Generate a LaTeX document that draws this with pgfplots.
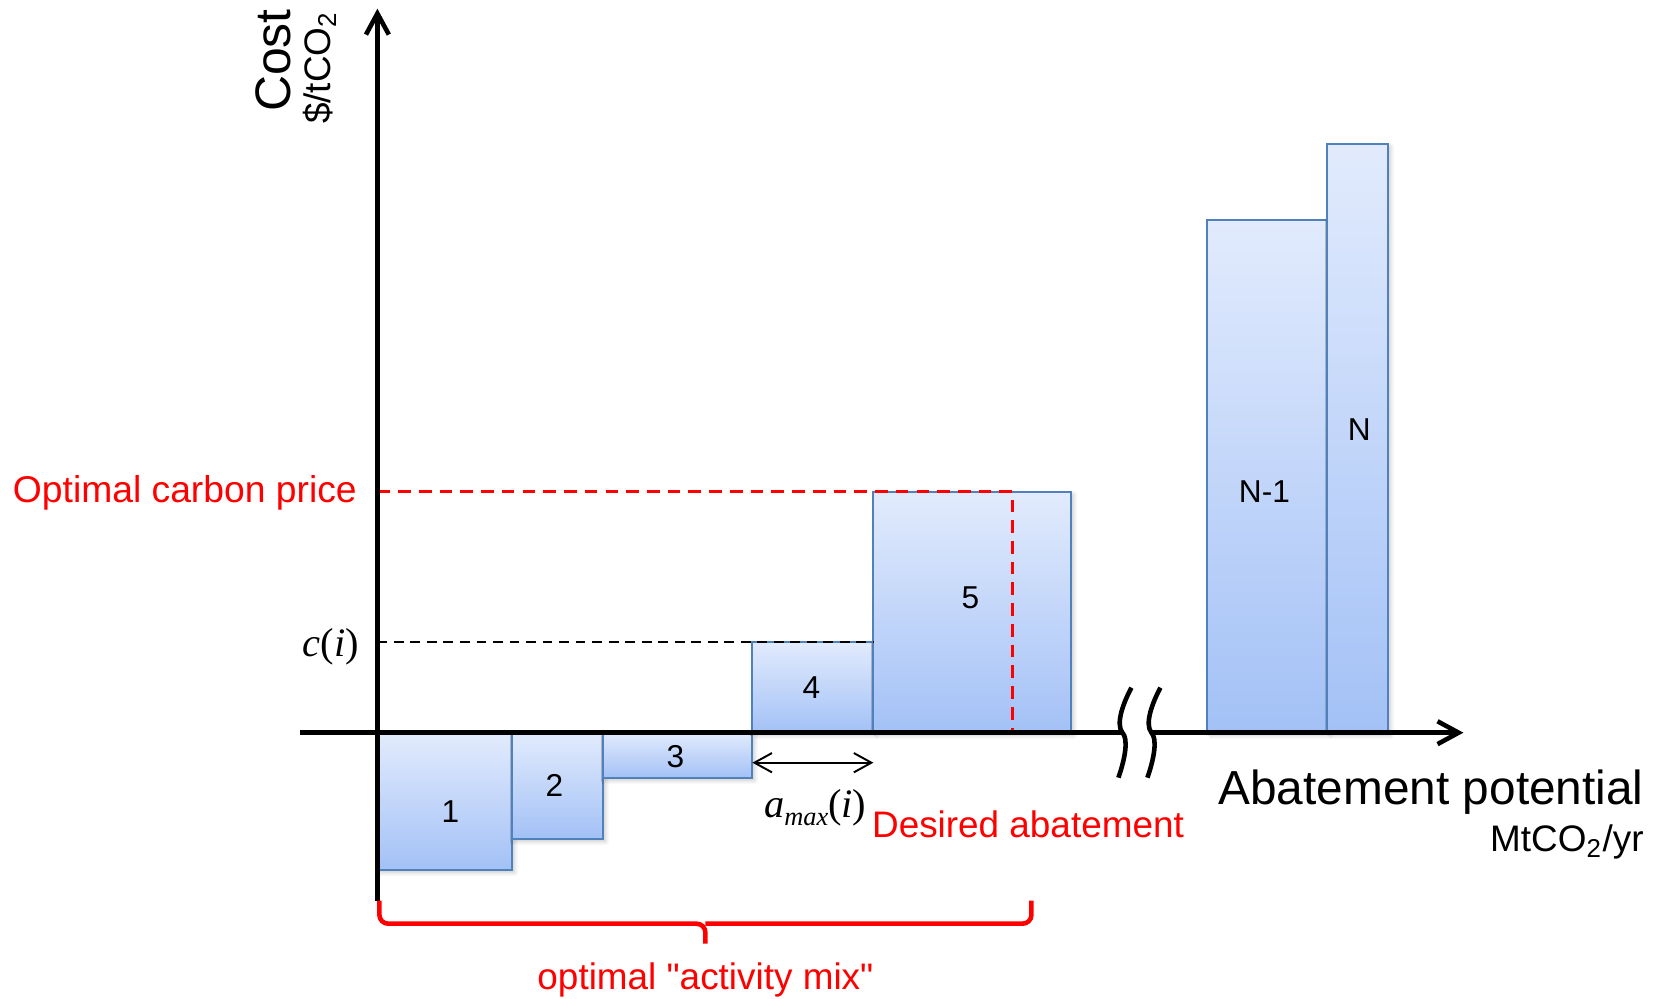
\documentclass[border=0pt]{standalone}
\usepackage{pgfplots}
\pgfplotsset{compat=1.18}
\usepackage{fontspec}
\setmainfont{Liberation Sans}[Ligatures=TeXOff]
\newfontfamily\serif{Liberation Serif}
\usetikzlibrary{arrows.meta,shadows.blur}
\definecolor{barTop}{RGB}{226,235,253}
\definecolor{barBot}{RGB}{163,193,246}
\definecolor{barEdge}{RGB}{79,129,189}
\tikzset{
  bar/.style={draw=barEdge, line width=0.6pt, top color=barTop, bottom color=barBot, line cap=rect,
    blur shadow={shadow xshift=0.6pt, shadow yshift=-0.8pt, shadow blur radius=1.2pt, shadow blur steps=6, shadow opacity=22}},
  axisline/.style={line width=1.3pt, black},
}

\begin{document}
\begin{tikzpicture}
\begin{axis}[
  scale only axis, width=16.53cm, height=9.98cm,
  xmin=-37.74, xmax=127.56, ymin=-26.53, ymax=73.27,
  hide axis, clip=false,
]
\path (rel axis cs:0,0) rectangle (rel axis cs:1,1);

% abatement activities: width = potential, height = cost
\addplot[bar] coordinates {(0,0) (13.5,0) (13.5,-13.7) (0,-13.7) (0,0)};
\addplot[bar] coordinates {(13.5,0) (22.6,0) (22.6,-10.6) (13.5,-10.6) (13.5,0)};
\addplot[bar] coordinates {(22.6,0) (37.5,0) (37.5,-4.5) (22.6,-4.5) (22.6,0)};
\addplot[bar] coordinates {(37.5,0) (49.6,0) (49.6,9.1) (37.5,9.1) (37.5,0)};
\addplot[bar] coordinates {(49.6,0) (69.4,0) (69.4,24.1) (49.6,24.1) (49.6,0)};
\addplot[bar] coordinates {(83.0,0) (95.0,0) (95.0,51.3) (83.0,51.3) (83.0,0)};
\addplot[bar] coordinates {(95.0,0) (101.1,0) (101.1,58.9) (95.0,58.9) (95.0,0)};

% bar numbers
\begin{scope}[font=\fontsize{9}{10}\selectfont]
\node at (7.3,-7.9) {1};
\node at (17.7,-5.3) {2};
\node at (29.8,-2.4) {3};
\node at (43.4,4.5) {4};
\node at (59.3,13.5) {5};
\node at (88.7,24.1) {N-1};
\node at (98.2,30.3) {N};
\end{scope}

% cost of activity i
\addplot[black, line width=0.6pt, dash pattern=on 2.8pt off 1.9pt] coordinates {(0,9.1) (49.6,9.1)};
% carbon price and desired abatement
\addplot[red, line width=0.8pt, dash pattern=on 3.6pt off 2.3pt] coordinates {(0,24.1) (63.5,24.1) (63.5,0)};

% axes
\draw[axisline, -{Straight Barb[length=6pt,width=6.5pt]}] (0,-16.8) -- (0,72.4);
\draw[axisline] (-7.7,0) -- (74.5,0);
\draw[axisline, -{Straight Barb[length=6pt,width=6.5pt]}] (77.4,0) -- (108.6,0);
% axis break
\draw[axisline] (75.4,4.5) .. controls (74.6,3) and (73.8,0.9) .. (74.5,0)
    .. controls (75.1,-0.6) and (74.8,-2.5) .. (74.1,-4.5);
\draw[axisline] (78.3,4.5) .. controls (77.5,3) and (76.7,0.9) .. (77.4,0)
    .. controls (78.0,-0.6) and (77.7,-2.5) .. (77.0,-4.5);

% width of activity i
\draw[line width=0.55pt, {Straight Barb[length=5pt,width=5.5pt]}-{Straight Barb[length=5pt,width=5.5pt]}] (37.5,-3.0) -- (49.6,-3.0);

% axis titles
\node[rotate=90, anchor=base west, inner sep=0pt, font=\fontsize{14.2}{16}\selectfont] at (-8.7,62.0) {Cost};
\node[rotate=90, anchor=base west, inner sep=0pt, font=\fontsize{10.5}{12}\selectfont] at (-4.7,60.8) {\$/tCO\textsubscript{2}};
\node[anchor=base east, inner sep=0pt, font=\fontsize{13.6}{16}\selectfont] at (126.7,-7.2) {Abatement potential};
\node[anchor=base east, inner sep=0pt, font=\fontsize{10.5}{12}\selectfont] at (126.7,-11.9) {MtCO\textsubscript{2}/yr};

% annotations
\node[anchor=base east, inner sep=0pt, red, font=\fontsize{10.6}{12}\selectfont] at (-2.0,23.0) {Optimal carbon price};
\node[anchor=base east, inner sep=0pt, font=\fontsize{11.5}{13}\selectfont\serif] at (-1.8,7.6) {\textit{c}(\textit{i})};
\node[anchor=base west, inner sep=0pt, font=\fontsize{11.5}{13}\selectfont\serif] at (38.6,-8.5) {\textit{a}\raisebox{-0.4ex}{\fontsize{7.5}{8}\selectfont\textit{max}}(\textit{i})};
\node[anchor=base west, inner sep=0pt, red, font=\fontsize{10.5}{12}\selectfont] at (49.4,-10.5) {Desired abatement};

% optimal mix brace
\draw[red, line width=1.3pt, rounded corners=2.5pt] (0.2,-16.8) -- (0.2,-19.1) -- (32.8,-19.1) -- (32.8,-21.1);
\draw[red, line width=1.3pt, rounded corners=2.5pt] (65.4,-16.8) -- (65.4,-19.1) -- (32.8,-19.1);
\node[anchor=base, inner sep=0pt, red, font=\fontsize{10.5}{12}\selectfont] at (32.8,-25.7) {optimal "activity mix"};
\end{axis}
\end{tikzpicture}
\end{document}
